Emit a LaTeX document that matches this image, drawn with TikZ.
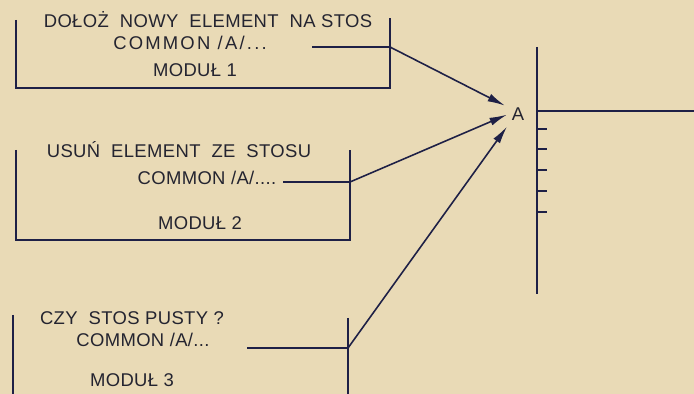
\documentclass[tikz,border=0pt]{standalone}
\usepackage{fontspec}
\setmainfont{Liberation Sans}[LetterSpace=2]
\usetikzlibrary{arrows.meta}

\definecolor{paper}{RGB}{233,218,182}
\definecolor{ink}{RGB}{30,32,70}
\definecolor{print}{RGB}{36,36,48}

\tikzset{
    frame/.style={ink, line width=1.4pt},
    link/.style={ink, line width=0.9pt},
    feed/.style={link, -{Latex[length=10pt,width=4.6pt]}},
    lbl/.style={anchor=base, inner sep=0pt, text=print, font=\fontsize{10.5}{12}\selectfont},
}

\begin{document}
\begin{tikzpicture}[x=0.02cm, y=-0.02cm]

    % Paper
    \fill[paper] (0,0) rectangle (694,394);
    \useasboundingbox (0,0) rectangle (694,394);

    % Module 1
    \draw[frame] (16,20) -- (16,88) -- (390,88) -- (390,18);
    \node[lbl] (push) at (208,28) {DOŁOŻ\ \ NOWY\ \ ELEMENT\ \ NA STOS};
    \node[lbl, font=\fontsize{10.5}{12}\selectfont\addfontfeatures{LetterSpace=12}] (com1) at (190,50) {COMMON /A/...};
    \node[lbl] (mod1) at (195,77) {MODUŁ 1};
    \coordinate (s1) at (312,47);
    \coordinate (e1) at (390,47);

    % Module 2
    \draw[frame] (16,150) -- (16,240) -- (350,240) -- (350,150);
    \node[lbl] (pop) at (179,158) {USUŃ\ \ ELEMENT\ \ ZE\ \ STOSU};
    \node[lbl] (com2) at (207,185) {COMMON /A/....};
    \node[lbl] (mod2) at (200,230) {MODUŁ 2};
    \coordinate (s2) at (283,182);
    \coordinate (e2) at (350,182);

    % Module 3
    \draw[frame] (13,315) -- (13,394);
    \draw[frame] (348,318) -- (348,394);
    \node[lbl] (empty) at (132,325) {CZY\ \ STOS PUSTY ?};
    \node[lbl] (com3) at (143,347) {COMMON /A/...};
    \node[lbl] (mod3) at (132,387) {MODUŁ 3};
    \coordinate (s3) at (247,348);
    \coordinate (e3) at (348,348);

    % Common block
    \node[lbl] (A) at (518,121) {A};
    \draw[frame] (537,47) -- (537,294);
    \draw[frame] (537,111) -- (694,111);
    \foreach \y in {129,149,170,191,212}
        \draw[frame] (537,\y) -- (547,\y);

    % References to A
    \draw[link] (s1) -- (e1);
    \draw[link] (s2) -- (e2);
    \draw[link] (s3) -- (e3);
    \draw[feed] (e1) -- ([shift={(-13,-9)}]A.center);
    \draw[feed] (e2) -- ([shift={(-11,0)}]A.center);
    \draw[feed] (e3) -- ([shift={(-11,12)}]A.center);

\end{tikzpicture}
\end{document}
